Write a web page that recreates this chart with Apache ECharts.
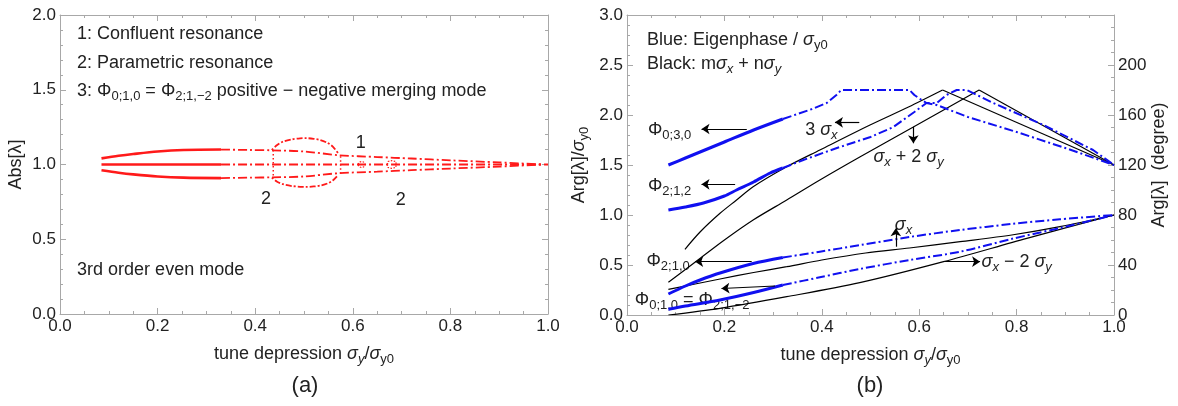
<!DOCTYPE html>
<html>
<head>
<meta charset="utf-8">
<title>Eigenvalues vs tune depression</title>
<script src="https://cdn.jsdelivr.net/npm/echarts@6/dist/echarts.min.js"></script>
<style>
  html, body { margin: 0; padding: 0; background: #fff; }
  #chart { width: 1178px; height: 406px; }
</style>
</head>
<body>
<div id="chart"></div>
<script>
// ---- data ----
// (a) Abs[lambda]
const redUpSolid = [[0.085, 1.041], [0.12, 1.058], [0.15, 1.070], [0.2, 1.087], [0.253, 1.097], [0.33, 1.100]];
const redUpDash = [[0.33, 1.100], [0.39, 1.097], [0.434, 1.095], [0.5, 1.087], [0.572, 1.062], [0.65, 1.050], [0.72, 1.040], [0.80, 1.028], [0.9, 1.014], [0.99, 1.0]];
const redDnSolid = [[0.085, 0.961], [0.12, 0.945], [0.15, 0.934], [0.2, 0.920], [0.253, 0.912], [0.33, 0.909]];
const redDnDash = [[0.33, 0.909], [0.39, 0.912], [0.434, 0.914], [0.5, 0.920], [0.572, 0.942], [0.65, 0.952], [0.72, 0.962], [0.80, 0.973], [0.9, 0.986], [0.99, 1.0]];
const redMidSolid = [[0.085, 1.0], [0.33, 1.0]];
const redMidDash = [[0.33, 1.0], [1.0, 1.0]];
const redArcUp = [[0.434, 1.097], [0.445, 1.13], [0.457, 1.153], [0.475, 1.168], [0.492, 1.175], [0.505, 1.176], [0.52, 1.172], [0.533, 1.164], [0.548, 1.145], [0.559, 1.12], [0.57, 1.075]];
const redArcDn = [[0.434, 0.912], [0.445, 0.885], [0.457, 0.868], [0.475, 0.856], [0.492, 0.851], [0.505, 0.850], [0.52, 0.853], [0.533, 0.859], [0.548, 0.873], [0.559, 0.893], [0.57, 0.93]];
const redJumpL = [[0.437, 1.097], [0.437, 0.912]];
const redJumpR = [[0.575, 1.055], [0.575, 0.935]];
const redLoop1 = [[0.611, 1.0], [0.613, 1.014], [0.618, 1.02], [0.623, 1.014], [0.625, 1.0], [0.623, 0.986], [0.618, 0.98], [0.613, 0.986], [0.611, 1.0]];
const redLoop2 = [[0.671, 1.0], [0.672, 1.02], [0.68, 1.026], [0.688, 1.02], [0.689, 1.0], [0.688, 0.98], [0.68, 0.974], [0.672, 0.98], [0.671, 1.0]];

// (b) Arg[lambda]/sigma_y0, blue eigenphases
const phi030Solid = [[0.085, 1.50], [0.12, 1.57], [0.15, 1.63], [0.2, 1.73], [0.26, 1.85], [0.32, 1.96]];
const phi030Dash = [[0.32, 1.96], [0.38, 2.06], [0.41, 2.12], [0.43, 2.20], [0.44, 2.25], [0.58, 2.25], [0.59, 2.20], [0.605, 2.15], [0.615, 2.12], [0.636, 2.10], [0.70, 1.98], [0.80, 1.83], [0.90, 1.67], [1.0, 1.50]];
const phi212Solid = [[0.085, 1.05], [0.12, 1.08], [0.157, 1.12], [0.2, 1.19], [0.225, 1.25], [0.26, 1.33], [0.294, 1.42], [0.32, 1.47]];
const phi212Dash = [[0.32, 1.47], [0.362, 1.55], [0.431, 1.67], [0.5, 1.78], [0.547, 1.88], [0.59, 2.03], [0.615, 2.12], [0.636, 2.12], [0.656, 2.20], [0.677, 2.25], [0.698, 2.25], [0.752, 2.12], [0.855, 1.90], [0.957, 1.65], [1.0, 1.50]];
const phi210Solid = [[0.085, 0.21], [0.12, 0.29], [0.15, 0.35], [0.191, 0.42], [0.259, 0.515], [0.32, 0.575]];
const phi210Dash = [[0.32, 0.575], [0.396, 0.633], [0.48, 0.70], [0.58, 0.78], [0.684, 0.85], [0.789, 0.91], [0.889, 0.957], [1.0, 1.0]];
const phi010Solid = [[0.085, 0.057], [0.12, 0.09], [0.191, 0.15], [0.26, 0.225], [0.32, 0.30]];
const phi010Dash = [[0.32, 0.30], [0.396, 0.377], [0.478, 0.46], [0.58, 0.55], [0.684, 0.633], [0.789, 0.76], [0.889, 0.87], [1.0, 1.0]];

// (b) black m*sigma_x + n*sigma_y lines
const blk3sx = [[0.119, 0.657], [0.15, 0.83], [0.191, 1.017], [0.225, 1.15], [0.259, 1.283], [0.328, 1.483], [0.396, 1.65], [0.499, 1.90], [0.578, 2.08], [0.648, 2.25], [1.0, 1.5]];
const blkSx2Sy = [[0.085, 0.327], [0.143, 0.54], [0.2, 0.75], [0.259, 0.95], [0.328, 1.15], [0.396, 1.35], [0.478, 1.58], [0.588, 1.88], [0.723, 2.25], [1.0, 1.5]];
const blkSx = [[0.085, 0.257], [0.14, 0.31], [0.191, 0.36], [0.26, 0.425], [0.328, 0.483], [0.40, 0.55], [0.49, 0.62], [0.58, 0.67], [0.684, 0.733], [0.79, 0.80], [0.889, 0.883], [1.0, 1.0]];
const blkSxM2Sy = [[0.085, 0.0], [0.191, 0.067], [0.328, 0.183], [0.478, 0.323], [0.65, 0.533], [0.821, 0.767], [1.0, 1.0]];

// arrows in panel (b): [from, to]
const arrowsB = [
    [[0.246, 1.86], [0.153, 1.86]],
    [[0.222, 1.307], [0.153, 1.307]],
    [[0.477, 1.927], [0.427, 1.927]],
    [[0.588, 1.883], [0.588, 1.717]],
    [[0.256, 0.533], [0.140, 0.533]],
    [[0.304, 0.29], [0.194, 0.265]],
    [[0.552, 0.683], [0.552, 0.867]],
    [[0.65, 0.533], [0.725, 0.533]]
];

const FONT = '"Liberation Sans", Arial, Helvetica, sans-serif';
const RED = '#ff1a1a';
const BLUE = '#1010f0';
const DASHDOT = [9, 3, 2, 3];

const rich = {
    it: { fontStyle: 'italic', fontSize: 18, fontFamily: FONT, lineHeight: 24 },
    sub: { fontSize: 13, fontFamily: FONT, verticalAlign: 'bottom', lineHeight: 11 },
    subi: { fontSize: 13, fontStyle: 'italic', fontFamily: FONT, verticalAlign: 'bottom', lineHeight: 11 }
};

function axisCommon(minorSplit) {
    return {
        axisLine: { show: true, onZero: false, lineStyle: { color: '#a8a8a8', width: 1 } },
        axisTick: { show: true, inside: true, length: 6, lineStyle: { color: '#a8a8a8' } },
        minorTick: { show: true, splitNumber: minorSplit, length: 3, lineStyle: { color: '#a8a8a8' } },
        splitLine: { show: false },
        axisLabel: { color: '#222', fontSize: 17, fontFamily: FONT, margin: 4 }
    };
}

function xAx(grid, pos, labels) {
    const a = Object.assign({ type: 'value', gridIndex: grid, position: pos, min: 0, max: 1, interval: 0.2 }, axisCommon(4));
    a.axisLabel.formatter = v => v.toFixed(1);
    a.axisLabel.show = labels;
    if (labels) {
        a.name = 'tune depression {it|σ}{subi|y}/{it|σ}{sub|y0}';
        a.nameLocation = 'middle';
        a.nameGap = 28;
        a.nameTextStyle = { color: '#222', fontSize: 18, fontFamily: FONT, lineHeight: 24, rich: rich };
    }
    return a;
}

function line(data, grid, color, width, type, smooth) {
    return {
        type: 'line',
        xAxisIndex: grid === 0 ? 0 : 2,
        yAxisIndex: grid === 0 ? 0 : 2,
        data: data,
        showSymbol: false,
        smooth: smooth ? 0.3 : false,
        lineStyle: { color: color, width: width, type: type },
        silent: true
    };
}

const chart = echarts.init(document.getElementById('chart'), null, { renderer: 'canvas' });

const yLeftA = Object.assign({ type: 'value', gridIndex: 0, position: 'left', min: 0, max: 2, interval: 0.5 }, axisCommon(5));
yLeftA.axisLabel.formatter = v => v.toFixed(1);
yLeftA.name = 'Abs[λ]';
yLeftA.nameLocation = 'middle';
yLeftA.nameRotate = 90;
yLeftA.nameGap = 35;
yLeftA.nameTextStyle = { color: '#222', fontSize: 18, fontFamily: FONT };

const yRightA = Object.assign({ type: 'value', gridIndex: 0, position: 'right', min: 0, max: 2, interval: 0.5 }, axisCommon(5));
yRightA.axisLabel.show = false;

const yLeftB = Object.assign({ type: 'value', gridIndex: 1, position: 'left', min: 0, max: 3, interval: 0.5 }, axisCommon(5));
yLeftB.axisLabel.formatter = v => v.toFixed(1);
yLeftB.name = 'Arg[λ]/{it|σ}{sub|y0}';
yLeftB.nameLocation = 'middle';
yLeftB.nameRotate = 90;
yLeftB.nameGap = 36;
yLeftB.nameTextStyle = { color: '#222', fontSize: 18, fontFamily: FONT, lineHeight: 24, rich: rich };

const yRightB = Object.assign({ type: 'value', gridIndex: 1, position: 'right', min: 0, max: 240, interval: 40 }, axisCommon(4));
yRightB.axisLabel.formatter = v => (v === 240 ? '' : String(v));
yRightB.name = 'Arg[λ]  (degree)';
yRightB.nameLocation = 'middle';
yRightB.nameRotate = 90;
yRightB.nameGap = 36;
yRightB.nameTextStyle = { color: '#222', fontSize: 18, fontFamily: FONT };

const blkSxSeries = line(blkSx, 1, '#000', 1.2, 'solid', true);
blkSxSeries.markLine = {
    silent: true,
    symbol: ['none', 'arrow'],
    symbolSize: 8,
    label: { show: false },
    lineStyle: { color: '#000', width: 1.2, type: 'solid' },
    data: arrowsB.map(a => [{ coord: a[0] }, { coord: a[1] }])
};

const option = {
    animation: false,
    grid: [
        { left: 60, right: 630, top: 15, bottom: 92 },
        { left: 627, right: 64, top: 15, bottom: 91 }
    ],
    xAxis: [xAx(0, 'bottom', true), xAx(0, 'top', false), xAx(1, 'bottom', true), xAx(1, 'top', false)],
    yAxis: [yLeftA, yRightA, yLeftB, yRightB],
    series: [
        line(redUpSolid, 0, RED, 2.6, 'solid', true),
        line(redUpDash, 0, RED, 1.8, DASHDOT, true),
        line(redDnSolid, 0, RED, 2.6, 'solid', true),
        line(redDnDash, 0, RED, 1.8, DASHDOT, true),
        line(redMidSolid, 0, RED, 2.6, 'solid', false),
        line(redMidDash, 0, RED, 1.8, DASHDOT, false),
        line(redArcUp, 0, RED, 1.8, [2, 2, 6, 2], true),
        line(redArcDn, 0, RED, 1.8, [2, 2, 6, 2], true),
        line(redJumpL, 0, RED, 1.5, [1.5, 2.5], false),
        line(redJumpR, 0, RED, 1.5, [1.5, 2.5], false),
        line(redLoop1, 0, RED, 1.2, [1.5, 1.5], true),
        line(redLoop2, 0, RED, 1.2, [1.5, 1.5], false),

        line(blk3sx.slice(0, 10), 1, '#000', 1.2, 'solid', true),
        line(blk3sx.slice(9), 1, '#000', 1.2, 'solid', false),
        line(blkSx2Sy.slice(0, 9), 1, '#000', 1.2, 'solid', true),
        line(blkSx2Sy.slice(8), 1, '#000', 1.2, 'solid', false),
        blkSxSeries,
        line(blkSxM2Sy, 1, '#000', 1.2, 'solid', true),

        line(phi030Solid, 1, BLUE, 3, 'solid', true),
        line(phi030Dash, 1, BLUE, 2, DASHDOT, false),
        line(phi212Solid, 1, BLUE, 3, 'solid', true),
        line(phi212Dash, 1, BLUE, 2, DASHDOT, false),
        line(phi210Solid, 1, BLUE, 3, 'solid', true),
        line(phi210Dash, 1, BLUE, 2, DASHDOT, true),
        line(phi010Solid, 1, BLUE, 3, 'solid', true),
        line(phi010Dash, 1, BLUE, 2, DASHDOT, true)
    ]
};
chart.setOption(option);

// text annotations, placed in data coordinates of each panel
const notesA = [
    ['1: Confluent resonance', 0.035, 1.873],
    ['2: Parametric resonance', 0.035, 1.679],
    ['3: Φ{sub|0;1,0} = Φ{sub|2;1,−2} positive − negative merging mode', 0.035, 1.492],
    ['3rd order even mode', 0.035, 0.294],
    ['1', 0.606, 1.144],
    ['2', 0.412, 0.77],
    ['2', 0.688, 0.763]
];
const notesB = [
    ['Blue: Eigenphase / {it|σ}{sub|y0}', 0.041, 2.75],
    ['Black: m{it|σ}{subi|x} + n{it|σ}{subi|y}', 0.041, 2.51],
    ['Φ{sub|0;3,0}', 0.043, 1.85],
    ['Φ{sub|2;1,2}', 0.043, 1.29],
    ['3 {it|σ}{subi|x}', 0.366, 1.85],
    ['{it|σ}{subi|x} + 2 {it|σ}{subi|y}', 0.506, 1.58],
    ['Φ{sub|2;1,0}', 0.040, 0.54],
    ['Φ{sub|0;1,0} = Φ{sub|2;1,−2}', 0.016, 0.15],
    ['{it|σ}{subi|x}', 0.55, 0.90],
    ['{it|σ}{subi|x} − 2 {it|σ}{subi|y}', 0.728, 0.533]
];

function textEl(str, p) {
    return {
        type: 'text',
        x: p[0],
        y: p[1],
        silent: true,
        style: {
            text: str,
            fill: '#222',
            fontSize: 18,
            fontFamily: FONT,
            lineHeight: 24,
            align: 'left',
            verticalAlign: 'middle',
            rich: rich
        }
    };
}

const graphics = [];
notesA.forEach(n => graphics.push(textEl(n[0], chart.convertToPixel({ gridIndex: 0 }, [n[1], n[2]]))));
notesB.forEach(n => graphics.push(textEl(n[0], chart.convertToPixel({ gridIndex: 1 }, [n[1], n[2]]))));
graphics.push({ type: 'text', x: 305, y: 386, silent: true,
    style: { text: '(a)', fill: '#222', fontSize: 22, fontFamily: FONT, align: 'center', verticalAlign: 'middle' } });
graphics.push({ type: 'text', x: 870, y: 386, silent: true,
    style: { text: '(b)', fill: '#222', fontSize: 22, fontFamily: FONT, align: 'center', verticalAlign: 'middle' } });

chart.setOption({ graphic: graphics });
</script>
</body>
</html>
